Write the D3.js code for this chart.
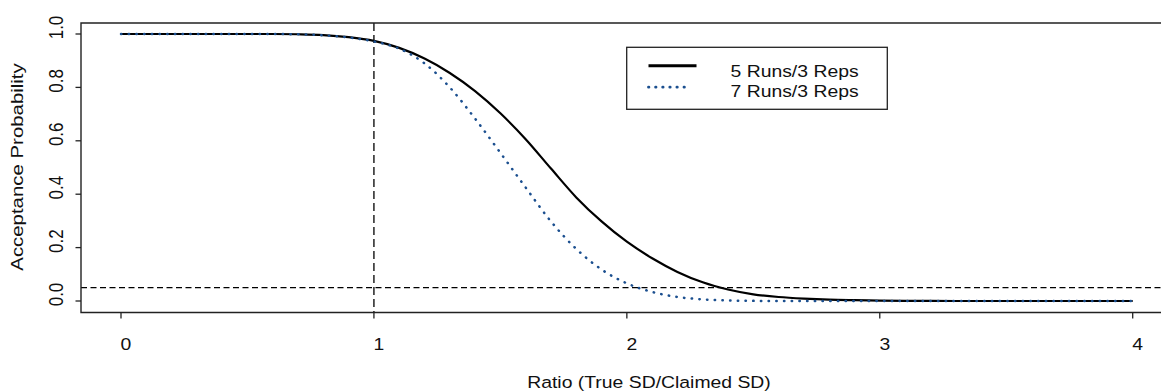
<!DOCTYPE html>
<html lang="en">
  <head>
    <meta charset="UTF-8" />
    <title>Acceptance Probability</title>
    <style>
      html,
      body {
        margin: 0;
        background: #fff;
      }
      svg text {
        font-family: "Liberation Sans", Arial, sans-serif;
        font-size: 17px;
        fill: #111;
      }
    </style>
    <script src="https://cdn.jsdelivr.net/npm/d3@7"></script>
  </head>

  <body>
    <script>
      const width = 1161;
      const height = 392;

      // data
      const ratio = [
        0, 0.1, 0.2, 0.3, 0.4, 0.5, 0.6, 0.7, 0.8, 0.9, 1.0, 1.1, 1.2, 1.3,
        1.4, 1.5, 1.6, 1.7, 1.8, 1.9, 2.0, 2.1, 2.2, 2.3, 2.4, 2.5, 2.6, 2.7,
        2.8, 2.9, 3.0, 3.1, 3.2, 3.3, 3.4, 3.5, 3.6, 3.7, 3.8, 3.9, 4.0,
      ];
      const runs5 = [
        1, 1, 1, 1, 1, 1, 1, 0.999, 0.996, 0.988, 0.974, 0.948, 0.908, 0.854,
        0.786, 0.703, 0.606, 0.496, 0.388, 0.298, 0.222, 0.16, 0.109, 0.07,
        0.043, 0.025, 0.015, 0.009, 0.005, 0.003, 0.0015, 0.0007, 0.0003, 0, 0,
        0, 0, 0, 0, 0, 0,
      ];
      const runs7 = [
        1, 1, 1, 1, 1, 1, 1, 0.999, 0.995, 0.987, 0.972, 0.945, 0.89, 0.8,
        0.683, 0.555, 0.425, 0.298, 0.195, 0.118, 0.066, 0.034, 0.015, 0.006,
        0.002, 0.0005, 0, 0, 0, 0, 0, 0, 0, 0, 0, 0, 0, 0, 0, 0, 0,
      ];
      const seriesNames = ["5 Runs/3 Reps", "7 Runs/3 Reps"];
      const xTicks = [0, 1, 2, 3, 4];
      const yTicks = [0, 0.2, 0.4, 0.6, 0.8, 1.0];
      const refX = 1;
      const refY = 0.05;

      const blue = "#1b4f8f";
      const stretch = 1.14;

      const svg = d3
        .select("body")
        .append("svg")
        .attr("width", width)
        .attr("height", height);

      // plot box
      const box = { left: 81, top: 23, right: 1163, bottom: 312.5 };

      const x = d3.scaleLinear().domain([0, 4]).range([121, 1132.7]);
      const y = d3.scaleLinear().domain([0, 1]).range([301, 34]);

      // reference lines
      svg
        .append("line")
        .attr("x1", box.left)
        .attr("x2", box.right)
        .attr("y1", y(refY))
        .attr("y2", y(refY))
        .attr("stroke", "#000")
        .attr("stroke-width", 1.3)
        .attr("stroke-dasharray", "6,3.5");

      svg
        .append("line")
        .attr("x1", x(refX))
        .attr("x2", x(refX))
        .attr("y1", box.top)
        .attr("y2", box.bottom)
        .attr("stroke", "#000")
        .attr("stroke-width", 1.3)
        .attr("stroke-dasharray", "8,4");

      // curves
      const line = d3
        .line()
        .x((d) => x(d[0]))
        .y((d) => y(d[1]))
        .curve(d3.curveMonotoneX);

      svg
        .append("path")
        .datum(ratio.map((r, i) => [r, runs5[i]]))
        .attr("d", line)
        .attr("fill", "none")
        .attr("stroke", "#000")
        .attr("stroke-width", 2.2);

      svg
        .append("path")
        .datum(ratio.map((r, i) => [r, runs7[i]]))
        .attr("d", line)
        .attr("fill", "none")
        .attr("stroke", blue)
        .attr("stroke-width", 2.5)
        .attr("stroke-linecap", "round")
        .attr("stroke-dasharray", "0.4,7.3");

      // box
      svg
        .append("path")
        .attr(
          "d",
          `M${box.right},${box.top}H${box.left}V${box.bottom}H${box.right}`
        )
        .attr("fill", "none")
        .attr("stroke", "#222")
        .attr("stroke-width", 1.4);

      // x axis
      const xAxis = svg.append("g");
      xAxis
        .selectAll("line")
        .data(xTicks)
        .enter()
        .append("line")
        .attr("x1", (d) => x(d))
        .attr("x2", (d) => x(d))
        .attr("y1", box.bottom)
        .attr("y2", box.bottom + 6)
        .attr("stroke", "#222")
        .attr("stroke-width", 1.3);
      xAxis
        .selectAll("text")
        .data(xTicks)
        .enter()
        .append("text")
        .attr("text-anchor", "middle")
        .attr("transform", (d) => `translate(${x(d) + 5},350) scale(${stretch},1)`)
        .text((d) => d);

      // y axis
      const yAxis = svg.append("g");
      yAxis
        .selectAll("line")
        .data(yTicks)
        .enter()
        .append("line")
        .attr("x1", box.left - 5.5)
        .attr("x2", box.left)
        .attr("y1", (d) => y(d))
        .attr("y2", (d) => y(d))
        .attr("stroke", "#222")
        .attr("stroke-width", 1.3);
      yAxis
        .selectAll("text")
        .data(yTicks)
        .enter()
        .append("text")
        .attr("text-anchor", "middle")
        .attr(
          "transform",
          (d) => `translate(62.5,${y(d) - 6.5}) scale(${stretch},1) rotate(-90)`
        )
        .text((d) => d.toFixed(1));

      // axis titles
      svg
        .append("text")
        .attr("text-anchor", "middle")
        .attr("transform", `translate(649,387.5) scale(${stretch},1)`)
        .text("Ratio (True SD/Claimed SD)");

      svg
        .append("text")
        .attr("text-anchor", "middle")
        .attr("transform", "translate(22.5,167) rotate(-90) scale(1.2,1)")
        .text("Acceptance Probability");

      // legend
      const legend = svg.append("g");
      legend
        .append("rect")
        .attr("x", 626.7)
        .attr("y", 47.3)
        .attr("width", 260.6)
        .attr("height", 62)
        .attr("fill", "#fff")
        .attr("stroke", "#222")
        .attr("stroke-width", 1.3);

      const legendStyle = [
        { color: "#000", width: 3, dash: null, cap: "butt" },
        { color: blue, width: 2.8, dash: "0.4,6.7", cap: "round" },
      ];
      seriesNames.forEach((name, i) => {
        const ly = 65.7 + i * 21.5;
        legend
          .append("line")
          .attr("x1", 648.5)
          .attr("x2", i === 0 ? 696.5 : 690)
          .attr("y1", ly)
          .attr("y2", ly)
          .attr("stroke", legendStyle[i].color)
          .attr("stroke-width", legendStyle[i].width)
          .attr("stroke-linecap", legendStyle[i].cap)
          .attr("stroke-dasharray", legendStyle[i].dash);
        legend
          .append("text")
          .attr("transform", `translate(730.5,${76.7 + i * 20}) scale(${stretch},1)`)
          .text(name);
      });
    </script>
  </body>
</html>
